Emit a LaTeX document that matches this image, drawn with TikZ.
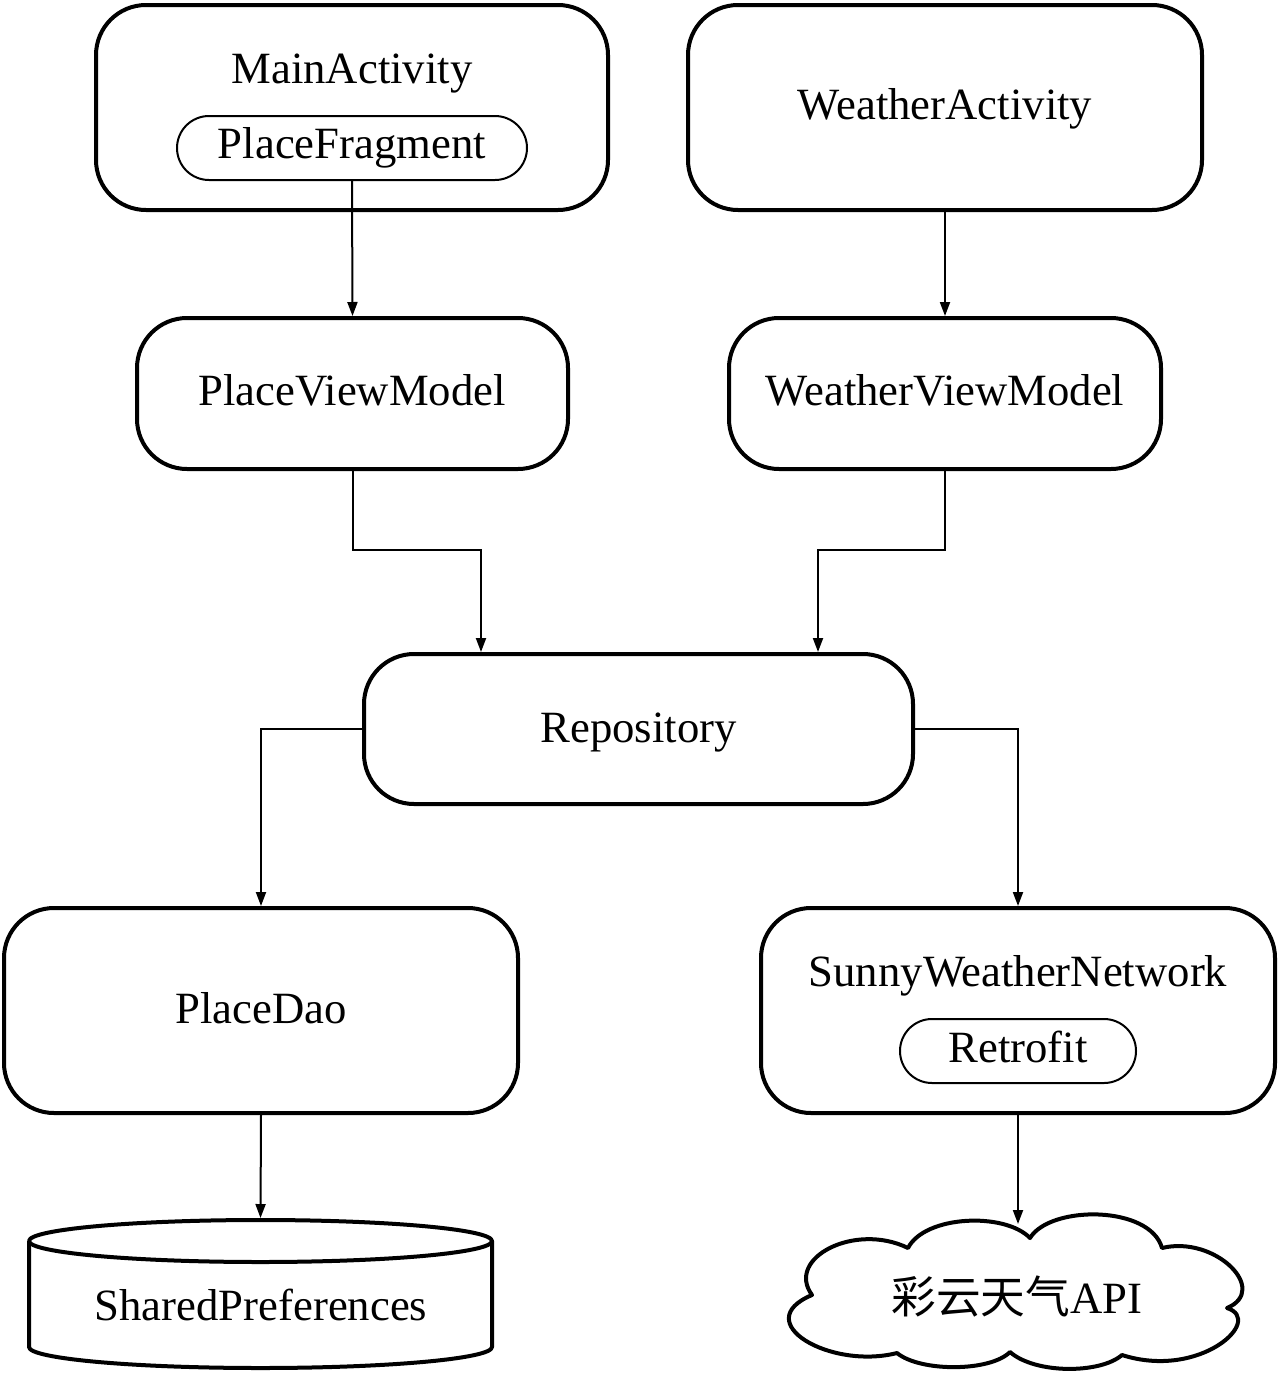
\documentclass[tikz,border=0pt]{standalone}
\usepackage{fontspec}
\setmainfont{Liberation Serif}
\newfontfamily\cjk{Noto Sans CJK SC}
\usetikzlibrary{arrows.meta,calc}
\begin{document}
\begin{tikzpicture}[x=1pt,y=-1pt,
  box/.style={draw,line width=4pt,rounded corners=50pt,inner sep=0pt},
  inbox/.style={draw,line width=2pt,rounded corners=32pt,inner sep=0pt},
  lbl/.style={font=\fontsize{44.7}{50}\selectfont,anchor=base,inner sep=0pt},
  arr/.style={line width=2pt,-{Triangle[width=10pt,length=14pt]}},
  thickline/.style={line width=4pt,line join=round}]
\useasboundingbox (0,0) rectangle (1279,1373);
% top row
\node[box,minimum width=512pt,minimum height=205pt] (ma) at (352,107.5) {};
\node[lbl] (malbl) at (352,83) {MainActivity};
\node[inbox,minimum width=350pt,minimum height=64pt] (pf) at (352,148) {};
\node[lbl] (pflbl) at (352,158) {PlaceFragment};
\node[box,minimum width=514pt,minimum height=205pt] (wa) at (945,107.5) {};
\node[lbl] (walbl) at (945,119) {WeatherActivity};
% view models
\node[box,minimum width=431pt,minimum height=151pt] (pvm) at (352.5,393.5) {};
\node[lbl] (pvmlbl) at (352,405) {PlaceViewModel};
\node[box,minimum width=432pt,minimum height=151pt] (wvm) at (945,393.5) {};
\node[lbl] (wvmlbl) at (945,405) {WeatherViewModel};
% repository
\node[box,minimum width=549pt,minimum height=150pt] (repo) at (638.5,729) {};
\node[lbl] (repolbl) at (638.5,742) {Repository};
% bottom row
\node[box,minimum width=514pt,minimum height=205pt] (pd) at (261,1010.5) {};
\node[lbl] (pdlbl) at (261,1023) {PlaceDao};
\node[box,minimum width=514pt,minimum height=205pt] (swn) at (1018,1010.5) {};
\node[lbl] (swnlbl) at (1018,986) {SunnyWeatherNetwork};
\node[inbox,minimum width=236pt,minimum height=64pt] (rf) at (1018,1051) {};
\node[lbl] (rflbl) at (1018,1062) {Retrofit};
% cylinder
\coordinate (cyltop) at (260.5,1218);
\draw[thickline] (260.5,1241) ellipse [x radius=231.5pt, y radius=21pt];
\draw[thickline] (29,1241) -- (29,1347) arc[start angle=180, end angle=360, x radius=231.5pt, y radius=21pt] -- (492,1241);
\node[lbl] (sp) at (261,1320) {SharedPreferences};
% cloud
\coordinate (cloudtop) at (1018,1224);
\draw[thickline] (812,1295)
  .. controls (785,1258) and (855,1222) .. (908,1248)
  .. controls (925,1215) and (1005,1212) .. (1030,1238)
  .. controls (1050,1205) and (1150,1205) .. (1162,1248)
  .. controls (1215,1235) and (1270,1290) .. (1227,1308)
  .. controls (1265,1320) and (1200,1380) .. (1122,1355)
  .. controls (1100,1374) and (1035,1374) .. (1010,1352)
  .. controls (990,1372) and (920,1372) .. (897,1353)
  .. controls (830,1370) and (748,1322) .. cycle;
\node[lbl] (api) at (1017,1313) {{\cjk 彩云天气}API};
% connectors
\draw[arr] (pf.south) -- (pvm.north);
\draw[arr] (wa.south) -- (wvm.north);
\draw[arr] (pvm.south) -- ++(0,79) -| ([xshift=-157.5pt]repo.north);
\draw[arr] (wvm.south) -- ++(0,79) -| ([xshift=179.5pt]repo.north);
\draw[arr] (repo.west) -| (pd.north);
\draw[arr] (repo.east) -| (swn.north);
\draw[arr] (pd.south) -- (cyltop);
\draw[arr] (swn.south) -- (cloudtop);
\end{tikzpicture}
\end{document}
